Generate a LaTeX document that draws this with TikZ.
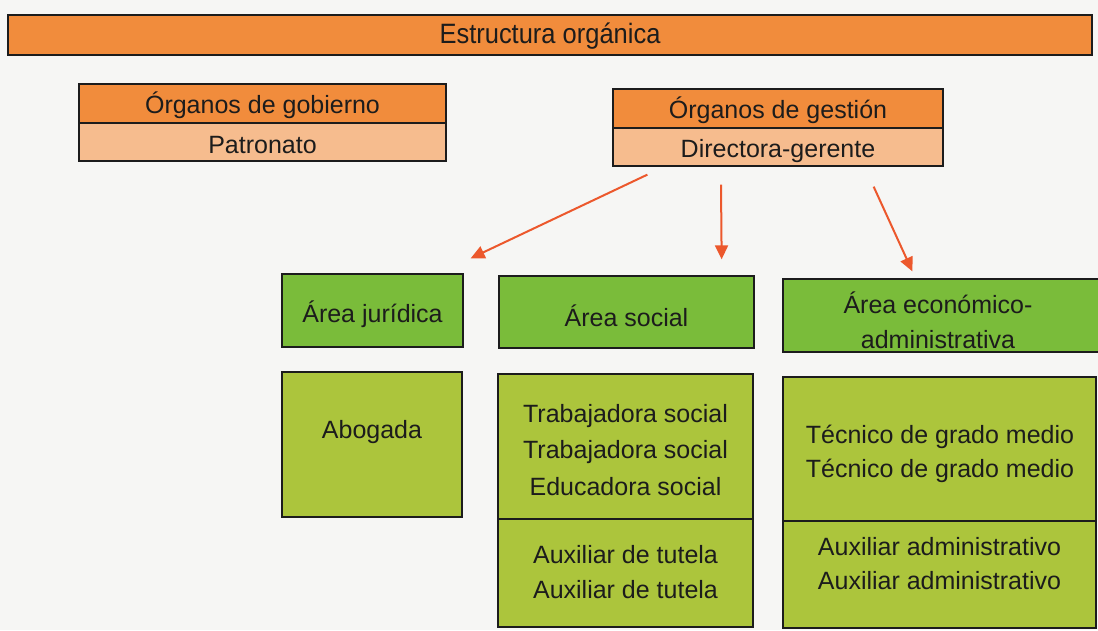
\documentclass[tikz,border=0pt]{standalone}
\usepackage{fontspec}
\setmainfont{Liberation Sans}
\usetikzlibrary{arrows.meta,calc}
\definecolor{orangebar}{RGB}{241,140,60}
\definecolor{peach}{RGB}{246,188,142}
\definecolor{greenA}{RGB}{122,188,58}
\definecolor{greenB}{RGB}{172,197,60}
\definecolor{arrowred}{RGB}{236,88,44}
\definecolor{paper}{RGB}{246,246,244}
\definecolor{ink}{RGB}{28,28,28}
\tikzset{
  box/.style={draw=ink, line width=1.3pt, inner sep=0pt},
  lbl/.style={inner sep=0pt, text=ink, font=\fontsize{25}{35}\selectfont, align=center},
  arr/.style={draw=arrowred, line width=2pt, -{Triangle[length=14pt,width=13pt]}, arrowred}
}
\begin{document}
\begin{tikzpicture}[x=1pt,y=-1pt]
\fill[paper] (0,0) rectangle (1098,630);
\useasboundingbox (0,0) rectangle (1098,630);
% title bar
\node[box, fill=orangebar, minimum width=1084pt, minimum height=40pt] (title) at (550,35) {};
\node[lbl, font=\fontsize{28}{32}\selectfont\addfontfeature{FakeStretch=0.91}] (titlet) at ($(title.center)+(0,1)$) {Estructura orgánica};
% organos de gobierno
\node[box, fill=orangebar, minimum width=367pt, minimum height=39pt] (gob) at (262.5,103.5) {};
\node[lbl] (gobt) at ($(gob.center)+(0,2)$) {Órganos de gobierno};
\node[box, fill=peach, minimum width=367pt, minimum height=38pt] (pat) at (262.5,142) {};
\node[lbl] (patt) at ($(pat.center)+(0,3.5)$) {Patronato};
% organos de gestion
\node[box, fill=orangebar, minimum width=330pt, minimum height=39pt] (gest) at (778,108.5) {};
\node[lbl] (gestt) at ($(gest.center)+(0,1.5)$) {Órganos de gestión};
\node[box, fill=peach, minimum width=330pt, minimum height=38pt] (dir) at (778,147) {};
\node[lbl] (dirt) at ($(dir.center)+(0,4.5)$) {Directora-gerente};
% areas
\node[box, fill=greenA, minimum width=181pt, minimum height=73pt] (jur) at (372.5,310.5) {};
\node[lbl] (jurt) at ($(jur.center)+(0,3.5)$) {Área jurídica};
\node[box, fill=greenA, minimum width=255pt, minimum height=72pt] (soc) at (626.5,312) {};
\node[lbl] (soct) at ($(soc.center)+(0,3.5)$) {Área social};
\node[box, fill=greenA, minimum width=317pt, minimum height=73pt] (eco) at (941.5,315.5) {};
\node[lbl] (ecot) at (938,320) {Área económico-\\administrativa};
% staff boxes
\node[box, fill=greenB, minimum width=180pt, minimum height=145pt] (abo) at (372,444.5) {};
\node[lbl] (abot) at (372,432.5) {Abogada};
\node[box, fill=greenB, minimum width=255pt, minimum height=145pt] (socup) at (625.5,446.5) {};
\node[lbl, font=\fontsize{25}{36.5}\selectfont] (socupt) at (625.5,450)
  {Trabajadora social\\Trabajadora social\\Educadora social};
\node[box, fill=greenB, minimum width=255pt, minimum height=108pt] (soclow) at (625.5,573) {};
\node[lbl] (soclowt) at (625.5,572) {Auxiliar de tutela\\Auxiliar de tutela};
\node[box, fill=greenB, minimum width=313pt, minimum height=144pt] (ecoup) at (939.5,449) {};
\node[lbl, font=\fontsize{25}{34}\selectfont] (ecoupt) at (940,454) {Técnico de grado medio\\Técnico de grado medio};
\node[box, fill=greenB, minimum width=313pt, minimum height=107pt] (ecolow) at (939.5,574.5) {};
\node[lbl, font=\fontsize{25}{34}\selectfont] (ecolowt) at (939.5,563.5) {Auxiliar administrativo\\Auxiliar administrativo};
% arrows
\draw[arr] ($(dir.south west)+(35,8)$) -- ($(jur.north east)+(7,-15)$);
\draw[arr] ($(dir.south)+(-57,18)$) -- ($(soc.north east)+(-33,-16)$);
\draw[arr] ($(dir.south east)+(-70,20)$) -- ($(eco.north west)+(130,-7)$);
\end{tikzpicture}
\end{document}
